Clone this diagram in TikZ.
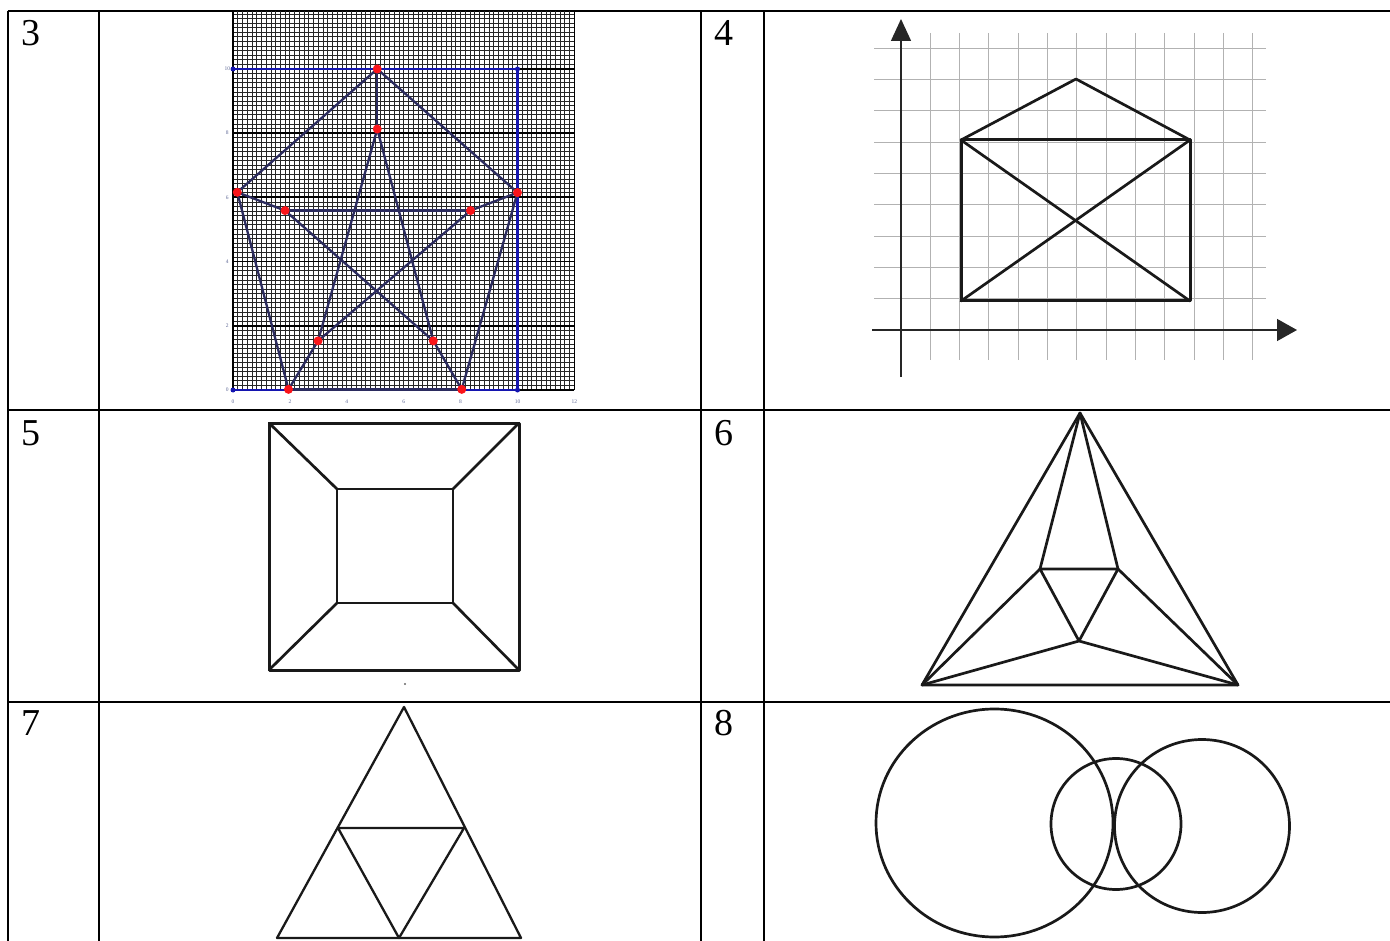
\documentclass[tikz,border=0pt]{standalone}
\usepackage{fontspec}
\setmainfont{Liberation Serif}
\usetikzlibrary{arrows.meta, positioning, calc}

\definecolor{navy}{RGB}{43,43,94}
\definecolor{frameblue}{RGB}{20,20,175}
\definecolor{dotred}{RGB}{250,20,25}
\definecolor{ticklbl}{RGB}{95,105,150}

\begin{document}
\begin{tikzpicture}[
        x=1pt, y=-1pt,
        rule/.style={line width=2pt},
        num/.style={anchor=base west, inner sep=0pt, font=\fontsize{38}{38}\selectfont},
        fine/.style={line width=0.85pt, black!85},
        major/.style={line width=1.8pt, black},
        frame/.style={line width=2.2pt, frameblue},
        star/.style={line width=2.3pt, navy},
        vtx/.style={circle, fill=dotred, inner sep=0pt, minimum size=9pt},
        bdot/.style={circle, fill=frameblue, inner sep=0pt, minimum size=5pt},
        tick/.style={font=\fontsize{5.5}{5.5}\selectfont, text=ticklbl, inner sep=0pt},
        pale/.style={line width=0.9pt, black!30},
        axis/.style={line width=1.5pt, black!85},
        fig/.style={line width=2.7pt, black!90, line join=round, line cap=round}
    ]
    \useasboundingbox (0,0) rectangle (1390,941);

    % Table rules
    \draw[rule] (7.5,11) -- (1390,11);
    \draw[rule] (7.5,410) -- (1390,410);
    \draw[rule] (7.5,702) -- (1390,702);
    \draw[rule] (7.5,11) -- (7.5,941);
    \draw[rule] (99,11) -- (99,941);
    \draw[rule] (701,11) -- (701,941);
    \draw[rule] (764,11) -- (764,941);

    % Row numbers
    \node[num] (n3) at (21,46) {3};
    \node[num] (n4) at (714,46) {4};
    \node[num] (n5) at (21,445) {5};
    \node[num] (n6) at (714,445) {6};
    \node[num] (n7) at (21,735) {7};
    \node[num] (n8) at (714,735) {8};

    % Figure 3: star in a pentagon on graph paper
    \begin{scope}[shift={(233,390)}, x=28.45pt, y=32.1pt]
        \foreach \i in {0,...,72}
            \draw[fine] (\i/6,0) -- (\i/6,11.8);
        \foreach \j in {1,...,82}
            \draw[fine] (0,\j/7) -- (12,\j/7);
        \foreach \j in {0,2,...,10}
            \draw[major] (0,\j) -- (12,\j);
        \draw[major] (0,0) -- (0,11.8);
        \draw[major] (12,0) -- (12,11.8);

        % blue frame
        \coordinate (f00) at (0,0);
        \coordinate (f10) at (10,0);
        \coordinate (f11) at (10,10);
        \coordinate (f01) at (0,10);
        \draw[frame] (f01) -- (f11) -- (f10) -- (f00);
        \foreach \p in {f00,f10,f11,f01}
            \node[bdot] at (\p) {};

        % tick labels
        \foreach \v in {0,2,...,12}
            \node[tick] (xl\v) at (\v,-0.36) {\v};
        \foreach \v in {0,2,...,10}
            \node[tick] (yl\v) at (-0.2,\v) {\v};

        % vertices
        \coordinate (A) at (5.07,10);
        \coordinate (B) at (5.07,8.13);
        \coordinate (C) at (0.15,6.16);
        \coordinate (D) at (10.0,6.15);
        \coordinate (E) at (1.83,5.59);
        \coordinate (F) at (8.35,5.59);
        \coordinate (G) at (2.99,1.53);
        \coordinate (H) at (7.04,1.53);
        \coordinate (I) at (1.95,0.02);
        \coordinate (J) at (8.04,0.02);

        \draw[star] (C) -- (A) -- (D);
        \draw[star] (A) -- (B);
        \draw[star] (C) -- (I);
        \draw[star] (D) -- (J);
        \draw[star, line width=3pt] (I) -- (J);
        \draw[star] (C) -- (E);
        \draw[star] (D) -- (F);
        \draw[star, line width=3.6pt] (E) -- (F);
        \draw[star] (G) -- (B) -- (H);
        \draw[star] (E) -- (H) -- (J);
        \draw[star] (F) -- (G) -- (I);

        \foreach \p in {A,B,C,D,E,F,G,H,I,J}
            \node[vtx] at (\p) {};
    \end{scope}

    % Figure 4: envelope on squared paper
    \foreach \k in {1,...,12}
        \draw[pale] ({901+29.3*\k},33) -- ({901+29.3*\k},360);
    \foreach \m in {1,...,9}
        \draw[pale] (874,{330-31.3*\m}) -- (1266,{330-31.3*\m});
    \coordinate (oy) at (901,377);
    \coordinate (ty) at (901,19);
    \coordinate (ox) at (872,330);
    \coordinate (tx) at (1297,330);
    \draw[axis, -{Triangle[length=22pt, width=20pt]}] (oy) -- (ty);
    \draw[axis, -{Triangle[length=20pt, width=22pt]}] (ox) -- (tx);

    \coordinate (hBL) at (961,301);
    \coordinate (hBR) at (1190,301);
    \coordinate (hTR) at (1190,140);
    \coordinate (hTL) at (961,140);
    \coordinate (hTop) at (1076,79);
    \draw[fig, line width=3pt] (hBL) -- (hBR) -- (hTR) -- (hTL) -- cycle;
    \draw[fig] (hTL) -- (hTop) -- (hTR);
    \draw[fig] (hTL) -- (hBR);
    \draw[fig] (hBL) -- (hTR);

    % Figure 5: frustum seen from above
    \coordinate (oBL) at (269,670);
    \coordinate (oBR) at (519,670);
    \coordinate (oTR) at (519,423);
    \coordinate (oTL) at (269,423);
    \coordinate (iBL) at (337,603);
    \coordinate (iBR) at (453,603);
    \coordinate (iTR) at (453,489);
    \coordinate (iTL) at (337,489);
    \draw[fig, line width=3pt] (oBL) -- (oBR) -- (oTR) -- (oTL) -- cycle;
    \draw[fig] (iBL) -- (iBR) -- (iTR) -- (iTL) -- cycle;
    \foreach \c in {BL,BR,TR,TL}
        \draw[fig] (o\c) -- (i\c);
    \fill[black!60] (405,684) circle (1.2);

    % Figure 6: triangle with inner triangle
    \coordinate (pA) at (1080,413);
    \coordinate (pL) at (922,685);
    \coordinate (pR) at (1238,685);
    \coordinate (qL) at (1040,569);
    \coordinate (qR) at (1118,569);
    \coordinate (qB) at (1079,641);
    \draw[fig] (pA) -- (pL) -- (pR) -- cycle;
    \draw[fig] (qL) -- (qR) -- (qB) -- cycle;
    \draw[fig] (qL) -- (pA) -- (qR);
    \draw[fig] (pL) -- (qL);
    \draw[fig] (pR) -- (qR);
    \draw[fig] (pL) -- (qB) -- (pR);

    % Figure 7: subdivided triangle
    \coordinate (tA) at (404,707);
    \coordinate (tML) at (338,828);
    \coordinate (tMR) at (464,828);
    \coordinate (tBL) at (277,938);
    \coordinate (tBM) at (399,938);
    \coordinate (tBR) at (521,938);
    \draw[fig, line width=2.3pt] (tA) -- (tBL) -- (tBR) -- cycle;
    \draw[fig, line width=2.3pt] (tML) -- (tMR) -- (tBM) -- cycle;

    % Figure 8: three circles
    \coordinate (cBig) at (994.5,823);
    \coordinate (cMid) at (1116,824);
    \coordinate (cRgt) at (1202,826);
    \draw[fig] (cBig) ellipse [x radius=118.5, y radius=114];
    \draw[fig] (cMid) ellipse [x radius=65, y radius=65.5];
    \draw[fig] (cRgt) ellipse [x radius=87.5, y radius=86.5];

\end{tikzpicture}
\end{document}
